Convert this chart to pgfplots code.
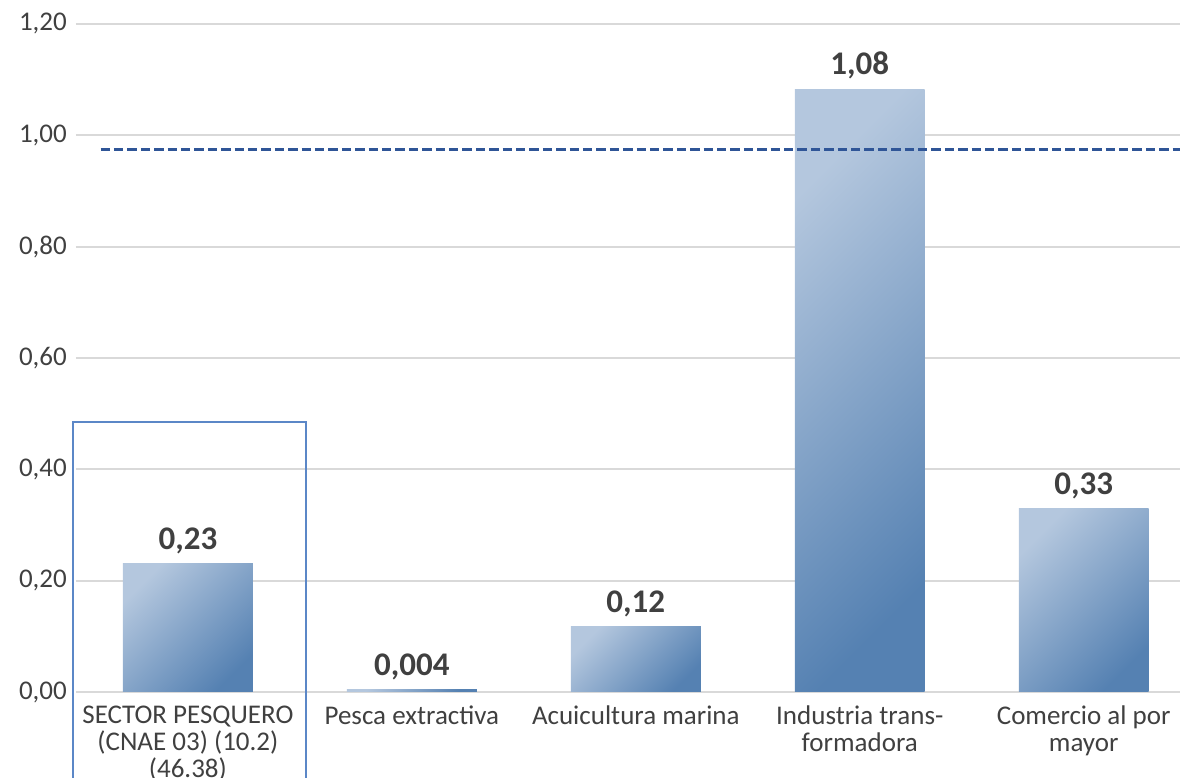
\documentclass[border=0pt]{standalone}
\usepackage{pgfplots}
\pgfplotsset{compat=1.18}
\usepackage{fontspec}
\setmainfont{Carlito}

\definecolor{barlight}{HTML}{B4C7DE}
\definecolor{bardark}{HTML}{5581B2}
\definecolor{txt}{HTML}{404040}
\definecolor{gridc}{HTML}{D9D9D9}
\definecolor{dashc}{HTML}{2F5597}
\definecolor{boxc}{HTML}{5B87C7}

\pgfplotsset{gradbar/.style={ybar, bar width=0.58, draw=none,
  top color=barlight, bottom color=bardark, shading angle=45,
  nodes near coords, point meta=explicit symbolic,
  every node near coord/.append style={text=txt, yshift=1.5pt, font=\bfseries\fontsize{16.5}{18}\selectfont}}}

\begin{document}
\begin{tikzpicture}
\begin{axis}[
  scale only axis,
  width=552pt, height=334pt,
  xmin=-0.5, xmax=4.43,
  ymin=0, ymax=1.2,
  clip=false,
  axis line style={draw=none},
  major tick length=0pt,
  ymajorgrids,
  grid style={gridc, line width=1pt},
  ytick={0,0.2,0.4,0.6,0.8,1.0,1.2},
  /pgf/number format/fixed,
  /pgf/number format/fixed zerofill,
  /pgf/number format/precision=2,
  /pgf/number format/use comma,
  /pgf/number format/assume math mode=true,
  yticklabel style={text=txt, font=\fontsize{13.5}{14}\selectfont, xshift=-1pt},
  xtick={0,1,2,3,4},
  xticklabels={{SECTOR PESQUERO\\(CNAE 03) (10.2)\\(46.38)}, Pesca extractiva, Acuicultura marina, {Industria trans-\\formadora}, {Comercio al por\\mayor}},
  xticklabel style={text=txt, align=center, font=\fontsize{13.5}{13.5}\selectfont, yshift=-3.5pt},
]
% one plot per bar so each bar gets its own gradient
\addplot[gradbar] coordinates {(0,0.23) [0,23]};
\addplot[gradbar] coordinates {(1,0.004) [0,004]};
\addplot[gradbar] coordinates {(2,0.117) [0,12]};
\addplot[gradbar] coordinates {(3,1.083) [1,08]};
\addplot[gradbar] coordinates {(4,0.329) [0,33]};
\addplot[dashc, line width=1.6pt, dash pattern=on 4.7pt off 2pt] coordinates {(-0.39,0.974) (4.43,0.974)};
\addplot[boxc, line width=0.7pt] coordinates {(-0.513,-0.25) (-0.513,0.485) (0.527,0.485) (0.527,-0.25)};
\coordinate (BL) at (axis cs:-0.839,-0.153);
\coordinate (TR) at (axis cs:4.43,1.243);
\end{axis}
\pgfresetboundingbox
\useasboundingbox (BL) rectangle (TR);
\end{tikzpicture}
\end{document}
